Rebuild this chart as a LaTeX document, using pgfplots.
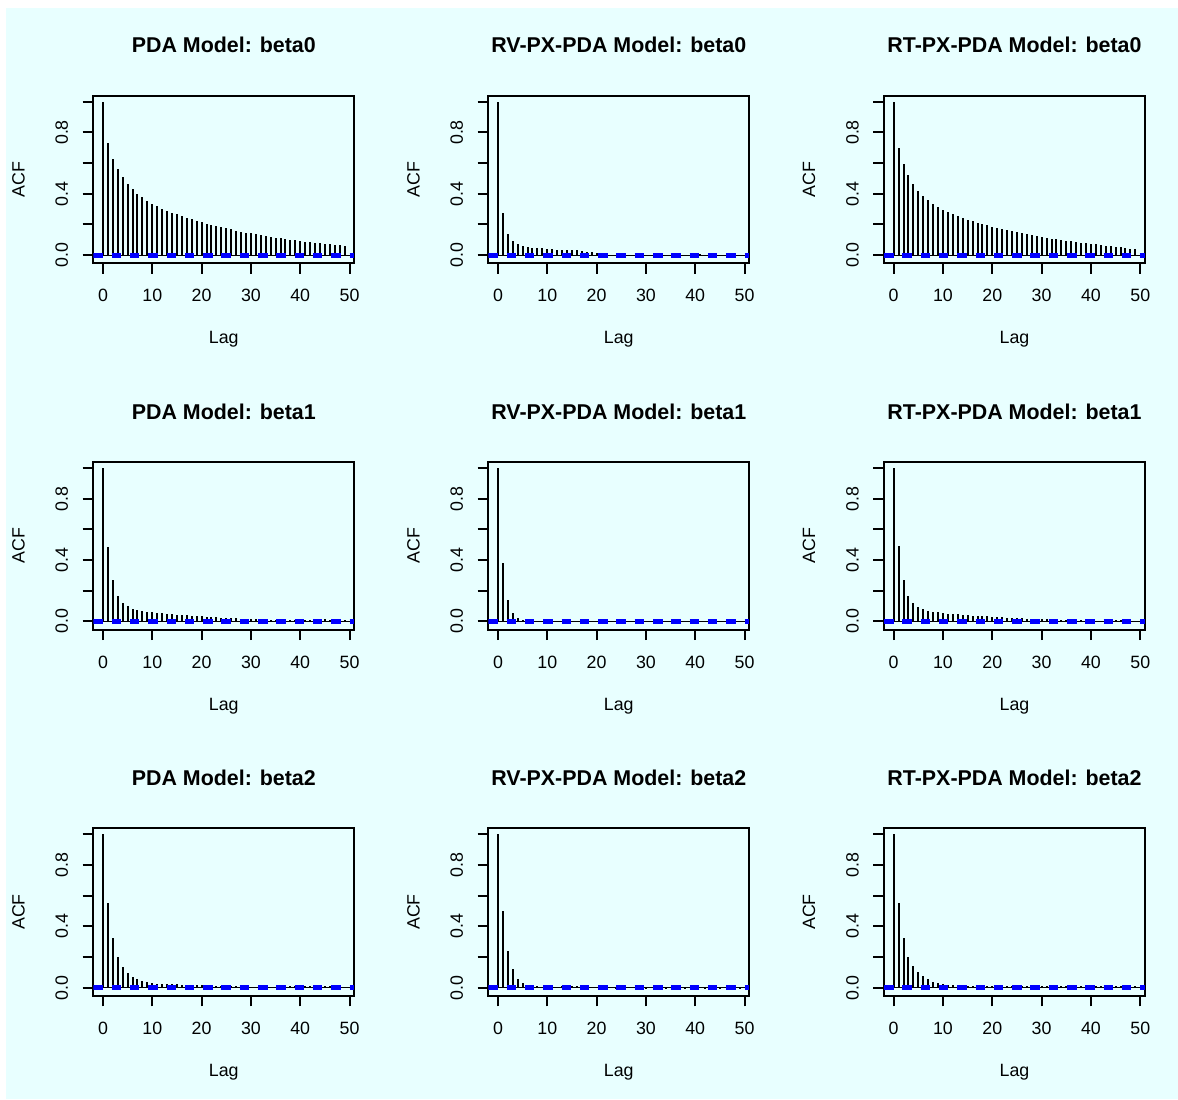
\documentclass[border=0pt]{standalone}
\usepackage{pgfplots}
\pgfplotsset{compat=1.18}
\usepackage{pgfplotstable}
\usepackage{fontspec}
\setmainfont{Liberation Sans}

\definecolor{bgcyan}{HTML}{E8FFFF}

% lags 0..49; c1..c9 = panels row by row
\pgfplotstableread{
lag c1 c2 c3 c4 c5 c6 c7 c8 c9
0 1.000 1.000 1.000 1.000 1.000 1.000 1.000 1.000 1.000
1 0.733 0.276 0.702 0.485 0.380 0.490 0.552 0.502 0.550
2 0.630 0.139 0.596 0.267 0.137 0.268 0.325 0.242 0.325
3 0.563 0.091 0.524 0.167 0.057 0.165 0.203 0.119 0.203
4 0.509 0.070 0.465 0.120 0.022 0.118 0.136 0.058 0.143
5 0.465 0.059 0.420 0.098 0.007 0.094 0.097 0.028 0.104
6 0.430 0.052 0.385 0.083 0.003 0.080 0.071 0.015 0.076
7 0.400 0.048 0.357 0.074 0.001 0.071 0.056 0.010 0.054
8 0.376 0.045 0.333 0.067 -0.002 0.064 0.043 0.008 0.039
9 0.354 0.043 0.313 0.063 0.001 0.059 0.035 0.006 0.028
10 0.335 0.040 0.296 0.059 0.000 0.055 0.030 0.005 0.022
11 0.319 0.038 0.281 0.055 -0.001 0.051 0.027 0.004 0.018
12 0.304 0.036 0.267 0.052 0.002 0.048 0.025 0.006 0.016
13 0.290 0.035 0.255 0.049 0.001 0.045 0.023 0.008 0.014
14 0.277 0.034 0.243 0.046 -0.001 0.042 0.022 0.010 0.013
15 0.265 0.032 0.232 0.043 0.000 0.040 0.021 0.011 0.012
16 0.254 0.030 0.222 0.041 0.001 0.038 0.020 0.012 0.012
17 0.243 0.027 0.212 0.039 0.002 0.036 0.019 0.010 0.011
18 0.233 0.020 0.203 0.037 -0.001 0.034 0.018 0.008 0.011
19 0.223 0.017 0.194 0.035 -0.002 0.032 0.017 0.005 0.010
20 0.214 0.012 0.185 0.033 0.000 0.030 0.016 0.003 0.010
21 0.205 0.008 0.177 0.031 0.001 0.028 0.015 0.002 0.010
22 0.197 0.005 0.169 0.029 -0.001 0.026 0.014 0.001 0.011
23 0.189 0.003 0.162 0.027 0.001 0.024 0.013 0.000 0.012
24 0.181 0.002 0.155 0.025 0.002 0.023 0.012 -0.001 0.011
25 0.174 0.001 0.148 0.023 0.000 0.021 0.011 0.001 0.010
26 0.167 0.000 0.141 0.021 -0.001 0.020 0.010 0.002 0.009
27 0.160 -0.001 0.135 0.020 0.001 0.018 0.009 0.003 0.010
28 0.153 0.001 0.129 0.018 0.000 0.017 0.008 0.004 0.011
29 0.147 -0.002 0.123 0.016 -0.002 0.016 0.007 0.003 0.010
30 0.141 0.001 0.118 0.015 0.001 0.015 0.006 0.001 0.009
31 0.135 0.002 0.113 0.014 0.002 0.013 0.005 0.000 0.010
32 0.129 -0.001 0.108 0.012 0.000 0.012 0.005 -0.001 0.011
33 0.124 0.001 0.103 0.011 -0.001 0.011 0.004 0.000 0.010
34 0.119 0.002 0.098 0.010 0.001 0.010 0.004 0.001 0.009
35 0.114 -0.001 0.094 0.009 0.002 0.009 0.005 0.002 0.010
36 0.109 0.001 0.090 0.008 0.001 0.008 0.006 0.001 0.011
37 0.104 0.002 0.086 0.007 -0.001 0.007 0.007 0.000 0.012
38 0.100 0.003 0.082 0.007 0.000 0.007 0.008 -0.001 0.011
39 0.096 0.002 0.078 0.006 0.001 0.006 0.009 0.000 0.010
40 0.092 0.003 0.074 0.006 -0.002 0.006 0.010 0.001 0.009
41 0.088 0.004 0.070 0.007 -0.001 0.005 0.011 0.000 0.010
42 0.084 0.003 0.066 0.008 0.000 0.005 0.012 -0.001 0.011
43 0.080 0.002 0.062 0.010 0.001 0.006 0.012 0.001 0.010
44 0.076 0.001 0.058 0.012 0.002 0.007 0.011 0.002 0.009
45 0.073 0.002 0.054 0.013 0.001 0.008 0.010 0.001 0.010
46 0.070 0.003 0.050 0.012 0.000 0.007 0.009 0.000 0.011
47 0.067 0.001 0.046 0.011 -0.001 0.006 0.008 0.001 0.010
48 0.064 0.002 0.042 0.009 0.001 0.005 0.008 0.000 0.009
49 0.061 0.001 0.038 0.006 0.000 0.004 0.007 -0.001 0.008
}\acfdata

\newcommand{\lblfont}{\fontsize{8.9}{10.5}\selectfont}

\pgfplotsset{
  acf/.style={
    scale only axis,
    anchor=south west,
    width=130.5pt, height=83.75pt,
    xmin=-1.96, xmax=50.96,
    ymin=-0.053, ymax=1.040,
    axis line style={line width=1pt},
    tick style={black, line width=1pt},
    major tick length=5.3pt,
    tick align=outside,
    xtick pos=bottom, ytick pos=left,
    xtick={0,10,20,30,40,50},
    xticklabels={0,10,20,30,40,50},
    ytick={0,0.2,0.4,0.6,0.8,1.0},
    yticklabels={0.0,,0.4,,0.8,},
    xticklabel style={anchor=center, font=\lblfont},
    xticklabel shift=11pt,
    yticklabel style={anchor=center, rotate=90, font=\lblfont},
    yticklabel shift=10.5pt,
    xlabel={Lag}, ylabel={ACF},
    every axis x label/.style={at={(axis description cs:0.5,-0.455)}, anchor=center, font=\lblfont},
    every axis y label/.style={at={(axis description cs:-0.287,0.5)}, anchor=center, rotate=90, font=\lblfont},
    every axis title/.style={at={(axis description cs:0.5,1.302)}, anchor=center,
      font=\bfseries\fontsize{10.7}{12}\selectfont},
  },
  bar/.style={ycomb, black, line width=1pt, no marks},
  zero/.style={black, line width=0.5pt, no marks},
  ci/.style={blue, line width=1.3pt, dash pattern=on 4.75pt off 4.4pt, no marks},
}

\newcommand{\acfpanel}[4]{%
  \begin{axis}[acf, at={(#1,#2)}, title={#3}]
    \addplot[bar] table[x=lag, y=#4] {\acfdata};
    \addplot[zero] coordinates {(-1.96,0) (50.96,0)};
    \addplot[ci] coordinates {(-1.96,0.008) (50.96,0.008)};
    \addplot[ci] coordinates {(-1.96,-0.008) (50.96,-0.008)};
  \end{axis}}

\begin{document}
\begin{tikzpicture}
  \fill[white] (0pt,0pt) rectangle (589pt,-549.5pt);
  \fill[bgcyan] (3pt,-3.75pt) rectangle (589pt,-549.5pt);
  \useasboundingbox (0pt,0pt) rectangle (589pt,-549.5pt);

  \acfpanel{46.65pt}{-131.6pt}{PDA Model: beta0}{c1}
  \acfpanel{244.15pt}{-131.6pt}{RV-PX-PDA Model: beta0}{c2}
  \acfpanel{442pt}{-131.6pt}{RT-PX-PDA Model: beta0}{c3}

  \acfpanel{46.65pt}{-314.75pt}{PDA Model: beta1}{c4}
  \acfpanel{244.15pt}{-314.75pt}{RV-PX-PDA Model: beta1}{c5}
  \acfpanel{442pt}{-314.75pt}{RT-PX-PDA Model: beta1}{c6}

  \acfpanel{46.65pt}{-497.9pt}{PDA Model: beta2}{c7}
  \acfpanel{244.15pt}{-497.9pt}{RV-PX-PDA Model: beta2}{c8}
  \acfpanel{442pt}{-497.9pt}{RT-PX-PDA Model: beta2}{c9}
\end{tikzpicture}
\end{document}
